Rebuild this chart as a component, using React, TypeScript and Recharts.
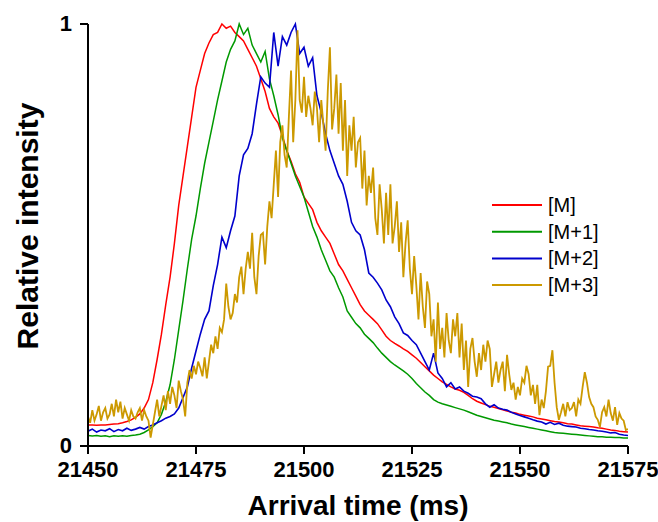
import { LineChart, Line, XAxis, YAxis, Legend, Label } from 'recharts';

// arrival time grid starts here (ms)
const T0 = 21450;
const X_TICKS = [21450, 21475, 21500, 21525, 21550, 21575];
const Y_TICKS = [0, 1];

// [M] - one value per ms, 21450..21575
const M0 = [
  0.050, 0.050, 0.049, 0.050, 0.050, 0.051, 0.052, 0.053, 0.055, 0.058,
  0.062, 0.068, 0.076, 0.090, 0.110, 0.150, 0.205, 0.265, 0.335, 0.400,
  0.480, 0.570, 0.640, 0.710, 0.780, 0.850, 0.890, 0.930, 0.955, 0.975,
  0.980, 1.000, 0.990, 0.995, 0.980, 0.970, 0.960, 0.940, 0.920, 0.900,
  0.870, 0.840, 0.800, 0.780, 0.765, 0.735, 0.700, 0.675, 0.645, 0.625,
  0.590, 0.575, 0.560, 0.530, 0.510, 0.495, 0.480, 0.455, 0.430, 0.415,
  0.395, 0.375, 0.355, 0.335, 0.320, 0.310, 0.300, 0.290, 0.275, 0.260,
  0.250, 0.243, 0.237, 0.230, 0.224, 0.216, 0.208, 0.198, 0.188, 0.178,
  0.168, 0.160, 0.152, 0.146, 0.140, 0.135, 0.132, 0.127, 0.120, 0.112,
  0.106, 0.102, 0.098, 0.094, 0.092, 0.089, 0.086, 0.083, 0.080, 0.078,
  0.075, 0.073, 0.071, 0.069, 0.066, 0.064, 0.062, 0.060, 0.058, 0.057,
  0.055, 0.053, 0.052, 0.050, 0.048, 0.047, 0.046, 0.045, 0.043, 0.042,
  0.040, 0.038, 0.037, 0.035, 0.034, 0.033,
];

// [M+1] - one value per ms
const M1 = [
  0.025, 0.024, 0.025, 0.023, 0.024, 0.022, 0.024, 0.023, 0.024, 0.023,
  0.025, 0.026, 0.028, 0.032, 0.038, 0.046, 0.055, 0.075, 0.105, 0.145,
  0.205, 0.275, 0.345, 0.420, 0.490, 0.545, 0.610, 0.670, 0.720, 0.770,
  0.820, 0.865, 0.910, 0.940, 0.960, 1.000, 0.975, 0.990, 0.950, 0.930,
  0.910, 0.935, 0.870, 0.830, 0.785, 0.730, 0.700, 0.670, 0.640, 0.615,
  0.590, 0.555, 0.520, 0.495, 0.465, 0.440, 0.415, 0.400, 0.375, 0.353,
  0.320, 0.305, 0.290, 0.280, 0.265, 0.255, 0.245, 0.232, 0.220, 0.210,
  0.200, 0.192, 0.185, 0.178, 0.170, 0.160, 0.148, 0.138, 0.128, 0.120,
  0.110, 0.104, 0.100, 0.097, 0.094, 0.091, 0.088, 0.085, 0.081, 0.077,
  0.073, 0.070, 0.067, 0.064, 0.061, 0.059, 0.057, 0.055, 0.052, 0.050,
  0.048, 0.046, 0.044, 0.042, 0.040, 0.038, 0.036, 0.034, 0.032, 0.031,
  0.030, 0.029, 0.028, 0.027, 0.026, 0.025, 0.024, 0.023, 0.022, 0.022,
  0.021, 0.021, 0.020, 0.020, 0.019, 0.019,
];

// [M+2] - one value per ms
const M2 = [
  0.035, 0.040, 0.033, 0.038, 0.036, 0.041, 0.034, 0.039, 0.036, 0.042,
  0.037, 0.040, 0.044, 0.040, 0.046, 0.050, 0.055, 0.060, 0.066, 0.070,
  0.076, 0.090, 0.115, 0.140, 0.185, 0.225, 0.265, 0.300, 0.320, 0.380,
  0.430, 0.495, 0.470, 0.510, 0.545, 0.640, 0.690, 0.705, 0.740, 0.810,
  0.875, 0.860, 0.850, 0.980, 0.900, 0.970, 0.950, 0.980, 1.000, 0.930,
  0.945, 0.900, 0.920, 0.830, 0.790, 0.740, 0.700, 0.670, 0.640, 0.620,
  0.580, 0.530, 0.510, 0.500, 0.465, 0.410, 0.400, 0.386, 0.370, 0.346,
  0.330, 0.306, 0.290, 0.268, 0.262, 0.250, 0.240, 0.220, 0.200, 0.180,
  0.220, 0.173, 0.160, 0.140, 0.150, 0.135, 0.140, 0.130, 0.125, 0.118,
  0.116, 0.112, 0.100, 0.092, 0.098, 0.090, 0.087, 0.085, 0.080, 0.076,
  0.072, 0.069, 0.066, 0.062, 0.059, 0.057, 0.052, 0.056, 0.051, 0.054,
  0.049, 0.047, 0.046, 0.045, 0.042, 0.041, 0.039, 0.038, 0.036, 0.035,
  0.033, 0.031, 0.032, 0.028, 0.026, 0.025,
];

// [M+3] - noisy, two values per ms
const M3 = [
  0.070, 0.055, 0.085, 0.060, 0.075, 0.095, 0.060, 0.080, 0.090, 0.065,
  0.075, 0.100, 0.070, 0.110, 0.080, 0.105, 0.065, 0.090, 0.075, 0.060,
  0.085, 0.070, 0.065, 0.080, 0.090, 0.060, 0.085, 0.070, 0.060, 0.020,
  0.050, 0.080, 0.110, 0.070, 0.095, 0.120, 0.085, 0.130, 0.100, 0.140,
  0.120, 0.090, 0.155, 0.130, 0.110, 0.070, 0.150, 0.180, 0.160, 0.190,
  0.170, 0.200, 0.185, 0.165, 0.210, 0.160, 0.200, 0.240, 0.220, 0.260,
  0.230, 0.280, 0.270, 0.300, 0.385, 0.330, 0.300, 0.315, 0.360, 0.340,
  0.400, 0.425, 0.360, 0.420, 0.460, 0.420, 0.505, 0.400, 0.360, 0.450,
  0.500, 0.505, 0.430, 0.520, 0.580, 0.540, 0.620, 0.700, 0.590, 0.720,
  0.760, 0.690, 0.660, 0.780, 0.890, 0.720, 0.820, 0.985, 0.820, 0.790,
  0.875, 0.780, 0.830, 0.800, 0.760, 0.840, 0.800, 0.720, 0.820, 0.760,
  0.700, 0.840, 0.945, 0.750, 0.800, 0.880, 0.740, 0.860, 0.700, 0.820,
  0.640, 0.760, 0.700, 0.780, 0.660, 0.720, 0.730, 0.610, 0.700, 0.570,
  0.640, 0.600, 0.660, 0.540, 0.500, 0.620, 0.560, 0.480, 0.600, 0.500,
  0.620, 0.480, 0.520, 0.580, 0.460, 0.530, 0.400, 0.480, 0.535, 0.420,
  0.360, 0.450, 0.380, 0.300, 0.410, 0.330, 0.280, 0.390, 0.360, 0.260,
  0.300, 0.200, 0.340, 0.230, 0.280, 0.210, 0.315, 0.250, 0.220, 0.300,
  0.260, 0.315, 0.210, 0.290, 0.180, 0.250, 0.140, 0.230, 0.256, 0.200,
  0.164, 0.220, 0.180, 0.240, 0.200, 0.250, 0.230, 0.140, 0.170, 0.200,
  0.150, 0.180, 0.200, 0.130, 0.216, 0.170, 0.133, 0.150, 0.110, 0.140,
  0.120, 0.160, 0.150, 0.190, 0.170, 0.120, 0.145, 0.100, 0.145, 0.073,
  0.110, 0.090, 0.130, 0.188, 0.190, 0.227, 0.150, 0.092, 0.062, 0.080,
  0.100, 0.070, 0.104, 0.085, 0.090, 0.104, 0.070, 0.110, 0.100, 0.140,
  0.175, 0.150, 0.116, 0.100, 0.092, 0.070, 0.062, 0.045, 0.080, 0.092,
  0.070, 0.110, 0.078, 0.060, 0.092, 0.050, 0.078, 0.065, 0.060, 0.038,
  0.040,
];

const toPoints = (vals: number[], step: number) =>
  vals.map((v, i) => ({ t: T0 + i * step, v }));

const SERIES = [
  { name: '[M]', color: '#ff0000', width: 1.5, data: toPoints(M0, 1) },
  { name: '[M+1]', color: '#009900', width: 1.5, data: toPoints(M1, 1) },
  { name: '[M+2]', color: '#0000cc', width: 1.6, data: toPoints(M2, 1) },
  { name: '[M+3]', color: '#cc9900', width: 1.8, data: toPoints(M3, 0.5) },
];

const FONT = '"Liberation Sans", Arial, Helvetica, sans-serif';

const XTick = ({ x, y, payload }: any) => (
  <text x={x} y={y + 21} textAnchor="middle" fontFamily={FONT} fontSize={22} fontWeight="bold" fill="#000">
    {payload.value}
  </text>
);

const YTick = ({ x, y, payload }: any) => (
  <text x={x} y={y + 7} textAnchor="end" fontFamily={FONT} fontSize={22} fontWeight="bold" fill="#000">
    {payload.value}
  </text>
);

// legend keeps the series order ([M] first)
const LegendBox = () => (
  <svg width={150} height={110} style={{ display: 'block' }}>
    {SERIES.map((s, i) => {
      const cy = 13 + i * 26.7;
      return (
        <g key={s.name}>
          <line x1={4} x2={54} y1={cy} y2={cy} stroke={s.color} strokeWidth={2} />
          <text x={60} y={cy + 7} fontFamily={FONT} fontSize={20} fill="#000">
            {s.name}
          </text>
        </g>
      );
    })}
  </svg>
);

export default function App() {
  return (
    <div style={{ position: 'absolute', left: 0, top: 0, background: '#fff' }}>
      <LineChart width={658} height={522} margin={{ top: 24, right: 30, left: 0, bottom: 0 }}>
        <XAxis
          type="number"
          dataKey="t"
          domain={[21450, 21575]}
          ticks={X_TICKS}
          allowDataOverflow
          height={76}
          tickSize={8}
          tickMargin={2}
          tick={<XTick />}
          axisLine={{ stroke: '#000', strokeWidth: 2 }}
          tickLine={{ stroke: '#000', strokeWidth: 2 }}
        >
          <Label
            content={() => (
              <text x={358} y={515} textAnchor="middle" fontFamily={FONT} fontSize={28} fontWeight="bold" fill="#000">
                Arrival time (ms)
              </text>
            )}
          />
        </XAxis>
        <YAxis
          type="number"
          domain={[0, 1]}
          ticks={Y_TICKS}
          width={88}
          tickSize={8}
          tickMargin={8}
          tick={<YTick />}
          axisLine={{ stroke: '#000', strokeWidth: 2 }}
          tickLine={{ stroke: '#000', strokeWidth: 2 }}
        >
          <Label
            content={() => (
              <text
                x={38}
                y={226}
                transform="rotate(-90 38 226)"
                textAnchor="middle"
                fontFamily={FONT}
                fontSize={30}
                fontWeight="bold"
                fill="#000"
              >
                Relative intensity
              </text>
            )}
          />
        </YAxis>
        <Legend
          layout="horizontal"
          verticalAlign="middle"
          align="center"
          wrapperStyle={{ left: 488, top: 192, width: 150 }}
          content={<LegendBox />}
        />
        {SERIES.map((s) => (
          <Line
            key={s.name}
            data={s.data}
            dataKey="v"
            name={s.name}
            type="linear"
            stroke={s.color}
            strokeWidth={s.width}
            dot={false}
            activeDot={false}
            isAnimationActive={false}
          />
        ))}
      </LineChart>
    </div>
  );
}
